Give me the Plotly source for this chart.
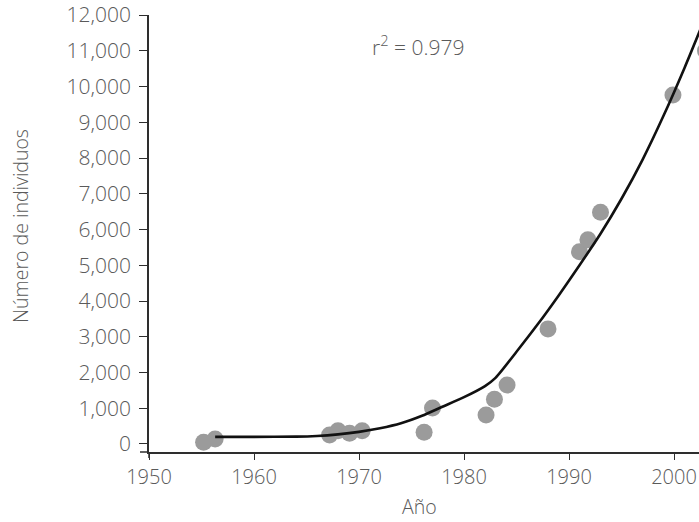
import plotly.graph_objects as go

# Observed data points
years = [1955.2, 1956.3, 1967.2, 1968.0, 1969.1, 1970.3, 1976.2, 1977.0,
         1982.1, 1982.9, 1984.1, 1988.0, 1991.0, 1991.8, 1993.0, 1999.9, 2003.0]
individuos = [50, 140, 250, 370, 300, 370, 330, 1010,
              810, 1250, 1650, 3220, 5380, 5710, 6480, 9760, 11000]

# Fitted curve
fit_years = [1956.3, 1960, 1964, 1966, 1968, 1970, 1972, 1974, 1976, 1978,
             1980, 1982, 1983, 1985, 1987, 1989, 1991, 1993, 1995, 1997,
             1999, 2001, 2003]
fit_values = [200, 200, 205, 225, 270, 340, 440, 580, 790, 1050,
              1310, 1620, 1850, 2580, 3340, 4150, 5000, 5880, 6860, 7950,
              9180, 10520, 11950]

x_ticks = [1950, 1960, 1970, 1980, 1990, 2000]
y_ticks = list(range(0, 12001, 1000))

font_family = "Open Sans, Lato, sans-serif"
txt_color = "#5a5a5a"
axis_color = "#2e2e2e"

FW, FH = 699, 522
# plot area in page pixels
L, R, T, B = 149, 699, 15, 452
PW, PH = R - L, B - T

fig = go.Figure()
fig.add_trace(go.Scatter(
    x=years, y=individuos, mode="markers",
    marker=dict(size=17, color="#9b9b9b", line=dict(width=0)),
    showlegend=False, cliponaxis=True))
fig.add_trace(go.Scatter(
    x=fit_years, y=fit_values, mode="lines",
    line=dict(color="#111111", width=2.6, shape="spline", smoothing=0.6),
    showlegend=False))

fig.add_annotation(x=1975.6, y=11160, xref="x", yref="y",
                   text="r<sup>2</sup> = 0.979", showarrow=False,
                   font=dict(family=font_family, size=21, color=txt_color, weight=300))

# axis titles placed as annotations
fig.add_annotation(x=(20 - L) / PW, y=(B - 226) / PH, xref="paper", yref="paper",
                   xanchor="center", yanchor="middle",
                   text="Número de individuos", textangle=-90, showarrow=False,
                   font=dict(family=font_family, size=19.5, color=txt_color, weight=300))
fig.add_annotation(x=(419 - L) / PW, y=(B - 507) / PH, xref="paper", yref="paper",
                   xanchor="center", yanchor="middle",
                   text="Año", showarrow=False,
                   font=dict(family=font_family, size=19.5, color=txt_color, weight=300))

# small axis overhangs at the origin
fig.add_shape(type="line", xref="paper", yref="paper",
              x0=-9 / PW, x1=0, y0=0, y1=0, line=dict(color=axis_color, width=1.5))
fig.add_shape(type="line", xref="paper", yref="paper",
              x0=0, x1=0, y0=-6 / PH, y1=0, line=dict(color=axis_color, width=1.5))

fig.update_layout(
    width=FW, height=FH,
    margin=dict(l=L, r=FW - R, t=T, b=FH - B, autoexpand=False),
    paper_bgcolor="white", plot_bgcolor="white",
    font=dict(family=font_family, size=21, color=txt_color, weight=300),
    xaxis=dict(range=[1950, 1950 + PW / 10.5], tickvals=x_ticks,
               ticktext=[str(v) for v in x_ticks],
               showgrid=False, zeroline=False, showline=True,
               linecolor=axis_color, linewidth=1.5, ticks="outside",
               ticklen=6, tickcolor=axis_color, tickwidth=1.3,
               ticklabeloverflow="allow", automargin=False,
               tickfont=dict(size=20)),
    yaxis=dict(range=[-224, 12000.5], tickvals=y_ticks,
               ticktext=[f"{v:,}" for v in y_ticks],
               showgrid=False, zeroline=False, showline=True,
               linecolor=axis_color, linewidth=1.5, ticks="outside",
               ticklen=8, tickcolor=axis_color, tickwidth=1.3,
               ticklabelstandoff=4, ticklabeloverflow="allow", automargin=False,
               tickfont=dict(size=21)),
)

fig.write_html("out.html",
               config={"displayModeBar": False},
               post_script="document.body.style.margin='0px';")
